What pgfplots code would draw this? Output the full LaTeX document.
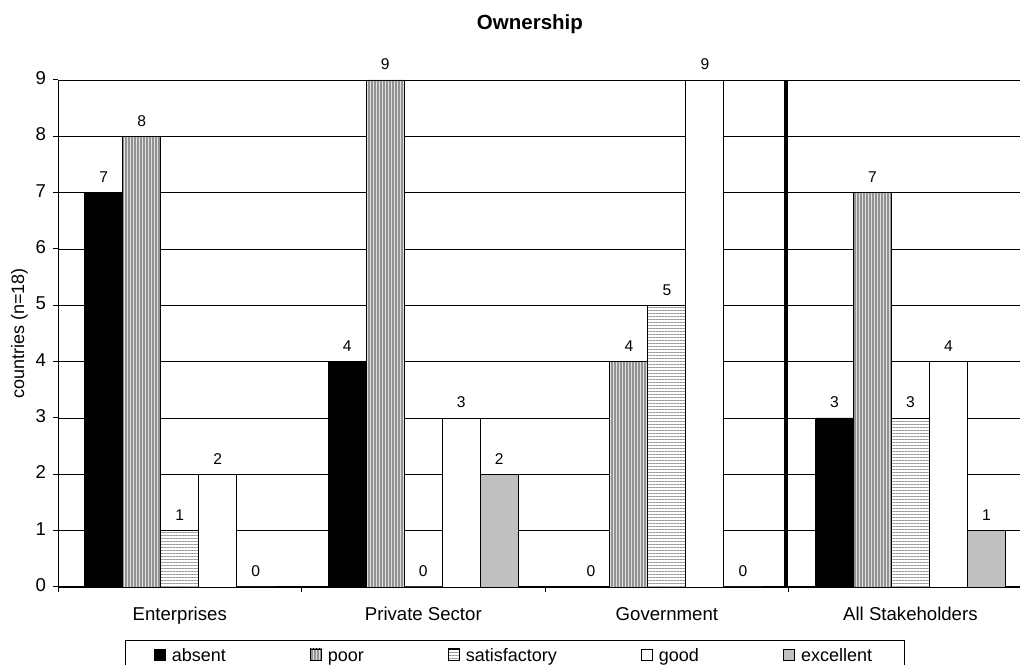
\documentclass[border=0pt]{standalone}
\usepackage{pgfplots}
\pgfplotsset{compat=1.18}
\usepackage{fontspec}
\setmainfont{Liberation Sans}
\usetikzlibrary{patterns.meta,calc}
\begin{document}
\begin{tikzpicture}
\begin{axis}[
  name=ax, scale only axis, width=481pt, height=253.5pt,
  ybar=0pt, bar width=19pt,
  xmin=-0.5, xmax=3.45, ymin=0, ymax=9,
  ytick={0,...,9},
  xtick={0,1,2,3},
  xticklabels={Enterprises, Private Sector, Government, All Stakeholders},
  major x tick style={draw=none},
  minor xtick={-0.5,0.5,1.5,2.5},
  minor x tick style={black, line width=0.5pt},
  major y tick style={black, line width=0.5pt},
  major tick length=2.5pt, minor tick length=2.5pt,
  tick align=outside,
  axis x line*=bottom, axis y line*=left,
  axis line style={black, line width=0.5pt},
  ymajorgrids, grid style={black, line width=0.45pt},
  /pgf/number format/assume math mode=true,
  tick label style={font=\fontsize{9.3}{11}\selectfont},
  typeset ticklabels with strut,
  xticklabel style={yshift=-3pt},
  ylabel={countries (n=18)},
  ylabel style={at={(axis description cs:-0.04,0.5)}, anchor=center, font=\fontsize{9}{11}\selectfont},
  title={Ownership},
  title style={font=\bfseries\fontsize{10.25}{12}\selectfont, at={(axis description cs:0.4906,1)}, anchor=center, yshift=22pt},
  nodes near coords,
  every node near coord/.append style={font=\fontsize{7.8}{9}\selectfont, yshift=1.5pt},
  legend columns=5,
  legend style={at={(axis description cs:0.475,-0.104)}, anchor=north, draw=black, line width=0.5pt,
    font=\fontsize{9}{11}\selectfont, inner xsep=14pt, inner ysep=0.5pt,
    cells={text height=1.55ex, text depth=0.4ex, inner ysep=0.6pt},
    /tikz/every even column/.append style={column sep=40pt},
    /tikz/every odd column/.append style={column sep=1pt}},
  legend image code/.code={\draw[#1, line width=0.4pt] (0pt,-2.6pt) rectangle (5.6pt,3pt);},
]
\addplot[draw=black, fill=black] coordinates {(0,7) (1,4) (2,0) (3,3)};
\addplot[draw=black, preaction={fill=gray!25}, pattern={Lines[angle=90,distance=1.5pt,line width=0.6pt]}, pattern color=gray!85] coordinates {(0,8) (1,9) (2,4) (3,7)};
\addplot[draw=black, preaction={fill=white}, pattern={Lines[angle=0,distance=1.5pt,line width=0.5pt]}, pattern color=gray!80] coordinates {(0,1) (1,0) (2,5) (3,3)};
\addplot[draw=black, fill=white] coordinates {(0,2) (1,3) (2,9) (3,4)};
\addplot[draw=black, fill={rgb,255:red,192;green,192;blue,192}] coordinates {(0,0) (1,2) (2,0) (3,1)};
\legend{absent, poor, satisfactory, good, excellent}
\draw[black, line width=2pt] (axis cs:2.49,0) -- (axis cs:2.49,9);
\end{axis}
\pgfresetboundingbox
\path[use as bounding box] ($(ax.south west)+(-29pt,-39pt)$) rectangle ($(ax.north east)+(0pt,40pt)$);
\end{tikzpicture}
\end{document}
